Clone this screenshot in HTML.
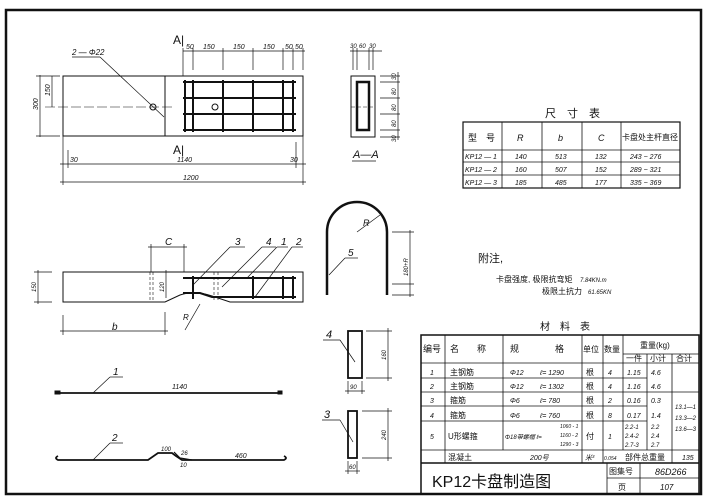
<!DOCTYPE html>
<html><head><meta charset="utf-8"><style>
html,body{margin:0;padding:0;background:#fff}
svg{display:block}
text{font-family:"Liberation Sans","Noto Sans CJK SC",sans-serif;fill:#111;font-style:italic}
.c{font-family:"Liberation Sans","Noto Sans CJK SC",sans-serif;font-style:normal}
</style></head><body>
<svg width="707" height="504" viewBox="0 0 707 504" xmlns="http://www.w3.org/2000/svg" stroke="#111" fill="none" stroke-width="1">
<rect x="6" y="10" width="695" height="484" stroke-width="2.5"/>
<rect x="63" y="76" width="240" height="60"/>
<line x1="165" y1="76" x2="165" y2="136"/>
<g stroke-width="2">
<line x1="183" y1="82" x2="296" y2="82"/><line x1="183" y1="98" x2="296" y2="98"/>
<line x1="183" y1="114" x2="296" y2="114"/><line x1="183" y1="130" x2="296" y2="130"/>
<line x1="185" y1="80" x2="185" y2="132"/><line x1="193" y1="80" x2="193" y2="132"/>
<line x1="223" y1="80" x2="223" y2="132"/><line x1="253" y1="80" x2="253" y2="132"/>
<line x1="283" y1="80" x2="283" y2="132"/><line x1="293" y1="80" x2="293" y2="132"/>
</g>
<circle cx="215" cy="107" r="3"/><circle cx="153" cy="107" r="3"/>
<line x1="45" y1="107" x2="174" y2="107" stroke-dasharray="10,3" stroke-width="0.6"/>
<line x1="100" y1="57" x2="164" y2="117" stroke-width="0.7"/><line x1="72" y1="57" x2="100" y2="57" stroke-width="0.7"/>
<text x="72" y="55" font-size="8" stroke="none">2 — Φ22</text>
<text x="173" y="44" font-size="12" stroke="none" style="font-style:normal">A|</text>
<text x="173" y="154" font-size="12" stroke="none" style="font-style:normal">A|</text>
<g stroke-width="0.7">
<line x1="183" y1="51" x2="305" y2="51"/>
<line x1="183" y1="48" x2="183" y2="76"/><line x1="193" y1="48" x2="193" y2="70"/><line x1="223" y1="48" x2="223" y2="70"/><line x1="253" y1="48" x2="253" y2="70"/><line x1="283" y1="48" x2="283" y2="70"/><line x1="293" y1="48" x2="293" y2="70"/><line x1="303" y1="48" x2="303" y2="70"/>
<line x1="40" y1="75" x2="40" y2="137"/><line x1="36" y1="76" x2="60" y2="76"/><line x1="36" y1="136" x2="60" y2="136"/>
<line x1="52" y1="76" x2="52" y2="107"/>
<line x1="63" y1="136" x2="63" y2="185"/><line x1="303" y1="136" x2="303" y2="185"/><line x1="68" y1="150" x2="68" y2="168"/><line x1="296" y1="142" x2="296" y2="168"/>
<line x1="60" y1="164" x2="306" y2="164"/><line x1="60" y1="182" x2="306" y2="182"/>
</g>
<g font-size="7" stroke="none">
<text x="186" y="49">50</text><text x="203" y="49">150</text><text x="233" y="49">150</text><text x="263" y="49">150</text><text x="285" y="49">50</text><text x="295" y="49">50</text>
<text x="70" y="162">30</text><text x="177" y="162">1140</text><text x="290" y="162">30</text><text x="183" y="180">1200</text>
<text transform="translate(38,110) rotate(-90)">300</text><text transform="translate(50,96) rotate(-90)">150</text>
</g>
<rect x="351" y="76" width="24" height="61"/>
<rect x="357" y="82" width="12" height="48" stroke-width="2.5"/>
<line x1="351" y1="107" x2="375" y2="107" stroke-dasharray="4,2" stroke-width="0.5"/>
<g stroke-width="0.7"><line x1="350" y1="51" x2="382" y2="51"/><line x1="353" y1="48" x2="353" y2="70"/><line x1="357" y1="48" x2="357" y2="70"/><line x1="369" y1="48" x2="369" y2="70"/><line x1="373" y1="48" x2="373" y2="70"/>
<line x1="398" y1="72" x2="398" y2="140"/><line x1="380" y1="76" x2="400" y2="76"/><line x1="380" y1="82" x2="400" y2="82"/><line x1="380" y1="98" x2="400" y2="98"/><line x1="380" y1="114" x2="400" y2="114"/><line x1="380" y1="130" x2="400" y2="130"/><line x1="380" y1="137" x2="400" y2="137"/></g>
<g font-size="6" stroke="none"><text x="350" y="48">30</text><text x="359" y="48">60</text><text x="369" y="48">30</text>
<text transform="translate(396,80) rotate(-90)">30</text><text transform="translate(396,95) rotate(-90)">80</text><text transform="translate(396,111) rotate(-90)">80</text><text transform="translate(396,127) rotate(-90)">80</text><text transform="translate(396,142) rotate(-90)">30</text></g>
<text x="353" y="158" font-size="11" stroke="none">A—A</text><line x1="352" y1="161" x2="376" y2="161" stroke-width="0.8"/>
<text class="c" x="545" y="117" font-size="11" stroke="none">尺　寸　表</text>
<rect x="463" y="122" width="217" height="66" stroke-width="1.2"/>
<g stroke-width="0.8"><line x1="463" y1="150" x2="680" y2="150"/><line x1="463" y1="162" x2="680" y2="162"/><line x1="463" y1="175" x2="680" y2="175"/>
<line x1="502" y1="122" x2="502" y2="188"/><line x1="542" y1="122" x2="542" y2="188"/><line x1="582" y1="122" x2="582" y2="188"/><line x1="621" y1="122" x2="621" y2="188"/></g>
<g stroke="none" font-size="9"><text class="c" x="468" y="141">型　号</text><text x="517" y="141">R</text><text x="558" y="141">b</text><text x="598" y="141">C</text><text class="c" x="622" y="140" font-size="8">卡盘处主杆直径</text></g>
<g stroke="none" font-size="7"><text x="465" y="159">KP12 — 1</text><text x="515" y="159">140</text><text x="555" y="159">513</text><text x="595" y="159">132</text><text x="630" y="159">243 ~ 276</text>
<text x="465" y="172">KP12 — 2</text><text x="515" y="172">160</text><text x="555" y="172">507</text><text x="595" y="172">152</text><text x="630" y="172">289 ~ 321</text>
<text x="465" y="185">KP12 — 3</text><text x="515" y="185">185</text><text x="555" y="185">485</text><text x="595" y="185">177</text><text x="630" y="185">335 ~ 369</text></g>
<path d="M327 295 L327 232 A30 30 0 0 1 387 232 L387 295" stroke-width="2.5"/>
<line x1="357" y1="232" x2="380" y2="215" stroke-width="0.7"/><text x="363" y="226" font-size="9" stroke="none">R</text>
<line x1="329" y1="275" x2="345" y2="258" stroke-width="0.7"/><line x1="345" y1="258" x2="358" y2="258" stroke-width="0.7"/><text x="348" y="256" font-size="10" stroke="none">5</text>
<g stroke-width="0.7"><line x1="410" y1="230" x2="410" y2="297"/><line x1="392" y1="232" x2="414" y2="232"/><line x1="392" y1="284" x2="414" y2="284"/><line x1="392" y1="295" x2="414" y2="295"/></g>
<text transform="translate(408,276) rotate(-90)" font-size="6" stroke="none">180+R</text>
<g stroke="none" class="c"><text class="c" x="478" y="262" font-size="11">附注,</text>
<text class="c" x="496" y="282" font-size="8">卡盘强度, 极限抗弯矩 </text><text x="580" y="282" font-size="6">7.84KN.m</text>
<text class="c" x="542" y="294" font-size="8">极限土抗力 </text><text x="588" y="294" font-size="6">61.65KN</text></g>
<path d="M63 272 L303 272 L303 302 L230 302 L212 296 Q195 290 180 295 L165 302 L63 302 Z"/>
<line x1="150" y1="272" x2="150" y2="302" stroke-dasharray="3,2" stroke-width="0.6"/><line x1="153" y1="272" x2="153" y2="302" stroke-dasharray="3,2" stroke-width="0.6"/>
<g stroke-width="2"><line x1="183" y1="278" x2="296" y2="278"/><path d="M183 293 L200 293 L212 297 L296 297"/>
<line x1="193" y1="276" x2="193" y2="299"/><line x1="253" y1="276" x2="253" y2="299"/><line x1="283" y1="276" x2="283" y2="299"/><line x1="293" y1="276" x2="293" y2="299"/></g>
<g stroke-width="0.6"><line x1="214" y1="272" x2="214" y2="302" stroke-dasharray="3,2"/><line x1="218" y1="272" x2="218" y2="302" stroke-dasharray="3,2"/></g>
<g stroke-width="0.7"><line x1="151" y1="244" x2="151" y2="272"/><line x1="184" y1="244" x2="184" y2="272"/><line x1="148" y1="247" x2="187" y2="247"/>
<line x1="38" y1="270" x2="38" y2="304"/><line x1="34" y1="272" x2="52" y2="272"/><line x1="34" y1="302" x2="52" y2="302"/>
<line x1="166" y1="270" x2="166" y2="298"/>
<line x1="63" y1="315" x2="63" y2="335"/><line x1="165" y1="312" x2="165" y2="335"/><line x1="60" y1="331" x2="168" y2="331"/>
<line x1="200" y1="304" x2="185" y2="330"/>
<line x1="193" y1="285" x2="230" y2="247"/><line x1="230" y1="247" x2="245" y2="247"/>
<line x1="222" y1="287" x2="262" y2="247"/><line x1="262" y1="247" x2="276" y2="247"/>
<line x1="247" y1="278" x2="277" y2="247"/><line x1="277" y1="247" x2="288" y2="247"/>
<line x1="255" y1="297" x2="292" y2="247"/><line x1="292" y1="247" x2="303" y2="247"/></g>
<g stroke="none" font-size="10"><text x="165" y="245">C</text><text x="112" y="330">b</text><text x="183" y="320" font-size="8">R</text>
<text x="235" y="245">3</text><text x="266" y="245">4</text><text x="281" y="245">1</text><text x="296" y="245">2</text></g>
<g stroke="none" font-size="6"><text transform="translate(36,292) rotate(-90)">150</text><text transform="translate(164,292) rotate(-90)">120</text></g>
<line x1="56" y1="393" x2="282" y2="393" stroke-width="1.8"/><rect x="55" y="391" width="5" height="3" fill="#111"/><rect x="278" y="391" width="4" height="3" fill="#111"/>
<line x1="93" y1="393" x2="110" y2="377" stroke-width="0.7"/><line x1="110" y1="377" x2="123" y2="377" stroke-width="0.7"/>
<text x="113" y="375" font-size="10" stroke="none">1</text><text x="172" y="389" font-size="7" stroke="none">1140</text>
<path d="M58 456 Q54 458 58 460 L148 460 L158 453 L172 453 L176 456 L182 460 L284 460 Q288 458 284 456" stroke-width="1.8"/>
<path d="M174 452 L180 458 L192 460" stroke-width="1.2"/>
<line x1="93" y1="460" x2="110" y2="443" stroke-width="0.7"/><line x1="110" y1="443" x2="123" y2="443" stroke-width="0.7"/>
<g stroke="none"><text x="112" y="441" font-size="10">2</text><text x="161" y="451" font-size="6">100</text><text x="181" y="455" font-size="6">26</text><text x="180" y="467" font-size="6">10</text><text x="235" y="458" font-size="7">460</text></g>
<rect x="348" y="331" width="14" height="47" stroke-width="1.8"/>
<rect x="348" y="411" width="9" height="47" stroke-width="1.8"/>
<g stroke-width="0.7"><line x1="366" y1="331" x2="392" y2="331"/><line x1="366" y1="378" x2="392" y2="378"/><line x1="388" y1="328" x2="388" y2="381"/>
<line x1="362" y1="411" x2="392" y2="411"/><line x1="362" y1="458" x2="392" y2="458"/><line x1="388" y1="408" x2="388" y2="461"/>
<line x1="345" y1="391" x2="365" y2="391"/><line x1="348" y1="381" x2="348" y2="394"/><line x1="362" y1="381" x2="362" y2="394"/>
<line x1="345" y1="471" x2="360" y2="471"/><line x1="348" y1="461" x2="348" y2="474"/><line x1="357" y1="461" x2="357" y2="474"/>
<line x1="340" y1="340" x2="355" y2="362"/><line x1="323" y1="340" x2="340" y2="340"/>
<line x1="340" y1="420" x2="353" y2="442"/><line x1="322" y1="420" x2="340" y2="420"/></g>
<g stroke="none"><text x="326" y="338" font-size="11">4</text><text x="324" y="418" font-size="11">3</text>
<text x="350" y="389" font-size="6">90</text><text x="349" y="469" font-size="6">60</text>
<text transform="translate(386,360) rotate(-90)" font-size="6">160</text><text transform="translate(386,440) rotate(-90)" font-size="6">240</text></g>
<text class="c" x="540" y="330" font-size="10" stroke="none">材　料　表</text>
<rect x="421" y="335" width="278" height="159" stroke-width="1.5"/>
<g stroke-width="0.8">
<line x1="421" y1="363" x2="699" y2="363"/><line x1="421" y1="378" x2="647" y2="378"/><line x1="421" y1="392" x2="699" y2="392"/><line x1="421" y1="406" x2="647" y2="406"/><line x1="421" y1="421" x2="647" y2="421"/><line x1="421" y1="450" x2="699" y2="450"/>
<line x1="421" y1="463" x2="699" y2="463" stroke-width="1.5"/><line x1="607" y1="478" x2="699" y2="478"/>
<line x1="623" y1="354" x2="699" y2="354"/>
<line x1="445" y1="335" x2="445" y2="463"/><line x1="503" y1="335" x2="503" y2="450"/><line x1="582" y1="335" x2="582" y2="463"/><line x1="603" y1="335" x2="603" y2="463"/><line x1="623" y1="335" x2="623" y2="450"/><line x1="647" y1="354" x2="647" y2="450"/><line x1="672" y1="354" x2="672" y2="463"/>
<line x1="607" y1="463" x2="607" y2="494"/><line x1="640" y1="463" x2="640" y2="494"/></g>
<g class="c" stroke="none" font-size="9">
<text class="c" x="423" y="352">编号</text><text class="c" x="450" y="352">名　　称</text><text class="c" x="510" y="352">规　　　　格</text><text class="c" x="583" y="352" font-size="8">单位</text><text class="c" x="604" y="352" font-size="8">数量</text>
<text class="c" x="640" y="348" font-size="8">重量(kg)</text><text class="c" x="626" y="361" font-size="8">一件</text><text class="c" x="650" y="361" font-size="8">小计</text><text class="c" x="676" y="361" font-size="8">合计</text>
<text class="c" x="450" y="375" font-size="8">主钢筋</text><text class="c" x="450" y="389" font-size="8">主钢筋</text><text class="c" x="450" y="403" font-size="8">箍筋</text><text class="c" x="450" y="418" font-size="8">箍筋</text><text class="c" x="448" y="439" font-size="8">U形螺箍</text><text class="c" x="448" y="460" font-size="8">混凝土</text>
<text class="c" x="586" y="375" font-size="8">根</text><text class="c" x="586" y="389" font-size="8">根</text><text class="c" x="586" y="403" font-size="8">根</text><text class="c" x="586" y="418" font-size="8">根</text><text class="c" x="586" y="439" font-size="8">付</text>
<text class="c" x="625" y="460" font-size="8">部件总重量</text>
<text class="c" x="432" y="487" font-size="16">KP12卡盘制造图</text>
<text class="c" x="609" y="474" font-size="8">图集号</text><text class="c" x="618" y="490" font-size="8">页</text>
</g>
<g stroke="none" font-size="7">
<text x="430" y="375">1</text><text x="430" y="389">2</text><text x="430" y="403">3</text><text x="430" y="418">4</text><text x="430" y="439">5</text>
<text x="510" y="375">Φ12</text><text x="540" y="375">ℓ= 1290</text><text x="510" y="389">Φ12</text><text x="540" y="389">ℓ= 1302</text>
<text x="510" y="403">Φ6</text><text x="540" y="403">ℓ= 780</text><text x="510" y="418">Φ6</text><text x="540" y="418">ℓ= 760</text>
<text x="505" y="439" font-size="6">Φ18带螺帽 ℓ=</text><text x="560" y="428" font-size="5">1060 - 1</text><text x="560" y="437" font-size="5">1160 - 2</text><text x="560" y="446" font-size="5">1290 - 3</text>
<text x="530" y="460">200号</text><text x="585" y="460">米³</text><text x="604" y="460" font-size="5">0.054</text><text x="682" y="460">135</text>
<text x="608" y="375">4</text><text x="608" y="389">4</text><text x="608" y="403">2</text><text x="608" y="418">8</text><text x="608" y="439">1</text>
<text x="627" y="375">1.15</text><text x="651" y="375">4.6</text><text x="627" y="389">1.16</text><text x="651" y="389">4.6</text>
<text x="627" y="403">0.16</text><text x="651" y="403">0.3</text><text x="627" y="418">0.17</text><text x="651" y="418">1.4</text>
<text x="625" y="429" font-size="6">2.2-1</text><text x="625" y="438" font-size="6">2.4-2</text><text x="625" y="447" font-size="6">2.7-3</text>
<text x="651" y="429" font-size="6">2.2</text><text x="651" y="438" font-size="6">2.4</text><text x="651" y="447" font-size="6">2.7</text>
<text x="675" y="409" font-size="6">13.1—1</text><text x="675" y="420" font-size="6">13.3—2</text><text x="675" y="431" font-size="6">13.6—3</text>
<text x="655" y="475" font-size="9">86D266</text><text x="660" y="490" font-size="8">107</text>
</g>
</svg>
</body></html>
